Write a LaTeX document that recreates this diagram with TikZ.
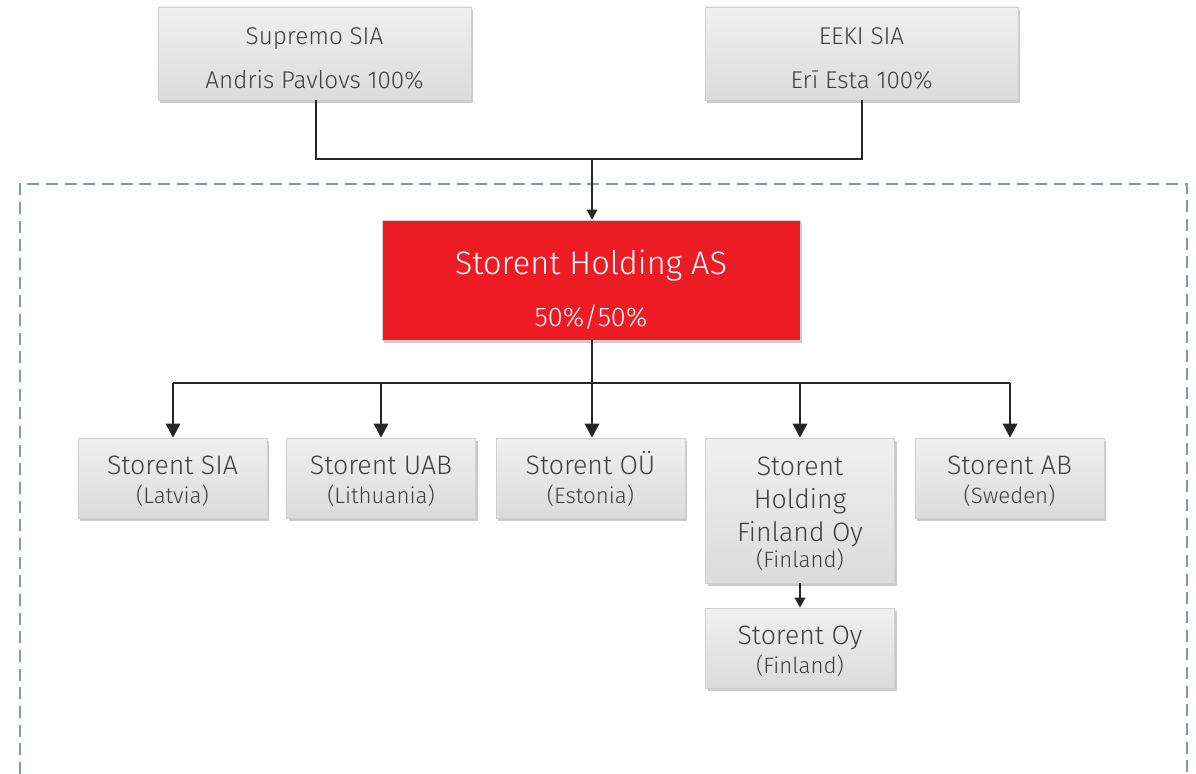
\documentclass[tikz,border=0pt]{standalone}
\usepackage{fontspec}
\setmainfont{Fira Sans Light}
\usetikzlibrary{shadows,arrows.meta}
\definecolor{txt}{HTML}{404040}
\definecolor{redbox}{HTML}{ED1C24}
\definecolor{dashc}{HTML}{8496B0}
\definecolor{bord}{HTML}{D0D0D0}
\definecolor{linec}{HTML}{262626}
\tikzset{
  boxshadow/.style={drop shadow={shadow xshift=1.5pt, shadow yshift=-2pt, opacity=0.35, fill=black!60}},
  graybox/.style={draw=bord, line width=0.6pt, top color=black!6, bottom color=black!14,
    boxshadow, inner sep=0pt, minimum width=141.75pt, minimum height=60pt},
  topbox/.style={graybox, minimum width=234.75pt, minimum height=69.75pt},
  btext/.style={text=txt, align=center, inner sep=0pt, font=\fontsize{20}{24.5}\selectfont},
  ttext/.style={text=txt, align=center, inner sep=0pt, font=\fontsize{18.2}{33}\selectfont},
  conn/.style={draw=linec, line width=1.1pt},
  arr/.style={conn, -{Triangle[length=10.5pt,width=11pt]}},
  sarr/.style={conn, -{Triangle[length=7.5pt,width=8pt]}},
}
\newcommand{\subt}[1]{{\fontsize{16.7}{21}\selectfont #1}}
\begin{document}
\begin{tikzpicture}[x=0.75pt,y=-0.75pt]
\useasboundingbox (0,0) rectangle (1196,774);
\draw[dashc, line width=1.1pt, dash pattern=on 9pt off 5pt] (20,774) -- (20,184) -- (1187,184) -- (1187,774);
\node[topbox, label={[ttext, yshift=-3.75pt]center:{Supremo SIA\\Andris Pavlovs 100\%}}] (sup) at (314.5,53.5) {};
\node[topbox, label={[ttext, yshift=-3.75pt]center:{EEKI SIA\\Erī Esta 100\%}}] (eeki) at (861.5,53.5) {};
\node[draw=bord, line width=0.6pt, fill=redbox, inner sep=0pt, minimum width=313.5pt, minimum height=90pt, boxshadow,
  label={[text=white, align=center, inner sep=0pt, yshift=-7.1pt]center:{{\fontsize{24.4}{30}\selectfont Storent Holding AS}\\[17pt]{\fontsize{20.3}{24}\selectfont 50\%/50\%}}}] (hold) at (591,280) {};
\coordinate (j) at (592,159);
\draw[conn] (sup.south -| 316,0) |- (j) -| (eeki.south -| 862,0);
\draw[sarr] (j) -- (hold.north -| j);
\node[graybox, label={[btext, yshift=-2.25pt]center:{Storent SIA\\[-3pt]\subt{(Latvia)}}}] (sia) at (172.5,478) {};
\node[graybox, label={[btext, yshift=-2.25pt]center:{Storent UAB\\[-3pt]\subt{(Lithuania)}}}] (uab) at (381,478) {};
\node[graybox, label={[btext, yshift=-0.75pt]center:{Storent OÜ\\[-3pt]\subt{(Estonia)}}}] (ou) at (590.5,478) {};
\node[graybox, minimum height=108.75pt, label={[btext, yshift=-2.5pt]center:{Storent\\Holding\\Finland Oy\\[-5pt]\subt{(Finland)}}}] (hfin) at (800,510.5) {};
\node[graybox, label={[btext, yshift=-2.25pt]center:{Storent AB\\[-3pt]\subt{(Sweden)}}}] (ab) at (1009.5,478) {};
\node[graybox, label={[btext, yshift=-2.25pt]center:{Storent Oy\\[-3pt]\subt{(Finland)}}}] (oy) at (800,648) {};
\coordinate (b) at (592,383);
\draw[conn] (hold.south -| b) -- (b);
\draw[conn] (173,383) -- (1010,383);
\draw[arr] (173,383) -- (sia.north -| 173,0);
\draw[arr] (381,383) -- (uab.north -| 381,0);
\draw[arr] (592,383) -- (ou.north -| 592,0);
\draw[arr] (800,383) -- (hfin.north);
\draw[arr] (1010,383) -- (ab.north -| 1010,0);
\draw[sarr] (hfin.south) -- (oy.north);
\end{tikzpicture}
\end{document}
